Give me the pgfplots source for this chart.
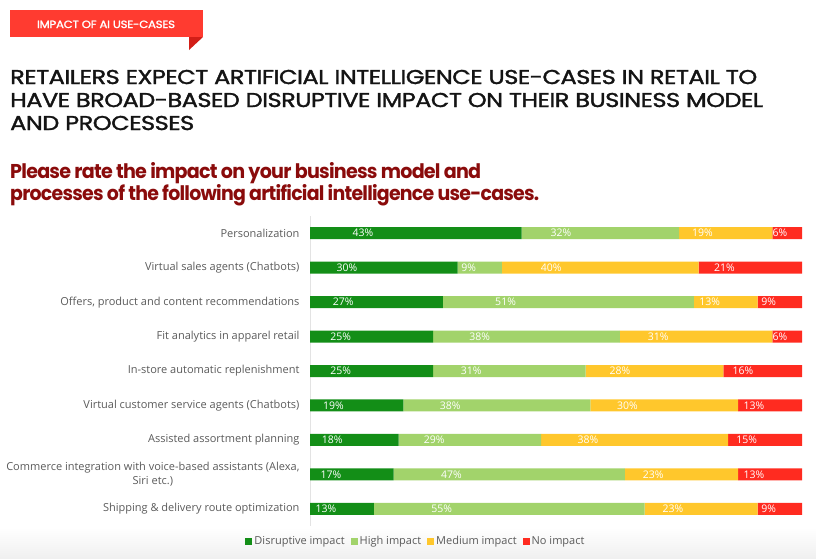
\documentclass[border=0pt]{standalone}
\usepackage{pgfplots}
\usepackage{pgfplotstable}
\pgfplotsset{compat=1.18}
\usepackage{fontspec}
\setmainfont{Open Sans}
\newfontfamily\titlefont{Poppins}[LetterSpace=-2, FakeBold=1.6]
\newfontfamily\subfont{Poppins}[LetterSpace=-4]
\definecolor{dg}{HTML}{138E17}
\definecolor{lg}{HTML}{A2D36B}
\definecolor{yl}{HTML}{FFC72C}
\definecolor{rd}{HTML}{FF2B20}
\definecolor{tagred}{HTML}{FF3B30}
\definecolor{tagdark}{HTML}{D21E17}
\definecolor{lbl}{HTML}{5A5A5A}
\definecolor{subred}{HTML}{8A0B0B}
\pgfplotstableread{
y d h m n
0 43 32 19 6
1 30 9 40 21
2 27 51 13 9
3 25 38 31 6
4 25 31 28 16
5 19 38 30 13
6 18 29 38 15
7 17 47 23 13
8 13 55 23 9
}\data
\begin{document}
\begin{tikzpicture}
\path[use as bounding box] (0pt,0pt) rectangle (816pt,-558pt);
\shade[top color=white,bottom color=gray!12] (0pt,-528pt) rectangle (816pt,-558pt);
% tag
\fill[tagdark] (189pt,-37pt) -- (203pt,-37pt) -- (189pt,-50pt) -- cycle;
\fill[tagred] (10pt,-10pt) rectangle (203pt,-37pt);
\node[white,anchor=base,inner sep=0,font=\titlefont\fontsize{10.5}{12}\selectfont] at (106pt,-28pt) {\resizebox{138pt}{\height}{IMPACT OF AI USE-CASES}};
% title
\begin{scope}[every node/.style={anchor=base west,inner sep=0,text=black!92,font=\titlefont\fontsize{20}{23}\selectfont}]
\node at (10pt,-84pt) {\resizebox{747pt}{\height}{RETAILERS EXPECT ARTIFICIAL INTELLIGENCE USE-CASES IN RETAIL TO}};
\node at (10pt,-107pt) {\resizebox{753pt}{\height}{HAVE BROAD-BASED DISRUPTIVE IMPACT ON THEIR BUSINESS MODEL}};
\node at (10pt,-130pt) {\resizebox{184pt}{\height}{AND PROCESSES}};
\end{scope}
\begin{scope}[every node/.style={anchor=base west,inner sep=0,text=subred,font=\subfont\bfseries\fontsize{20}{23}\selectfont}]
\node at (10pt,-178pt) {\resizebox{471pt}{\height}{Please rate the impact on your business model and}};
\node at (10pt,-200pt) {\resizebox{529pt}{\height}{processes of the following artificial intelligence use-cases.}};
\end{scope}
\begin{axis}[
  at={(310pt,-216pt)}, anchor=north west, scale only axis,
  width=492pt, height=310pt,
  xbar stacked, bar width=12pt,
  xmin=0, xmax=100, ymin=-0.5, ymax=8.5, y dir=reverse,
  axis x line=none, axis y line*=left,
  y axis line style={draw=gray!22},
  ytick={0,...,8}, major tick length=0pt,
  yticklabels={Personalization, Virtual sales agents (Chatbots), {Offers, product and content recommendations}, Fit analytics in apparel retail, In-store automatic replenishment, Virtual customer service agents (Chatbots), Assisted assortment planning, {Commerce integration with voice-based assistants (Alexa,\\Siri etc.)}, Shipping \& delivery route optimization},
  yticklabel style={font=\fontsize{11}{13.5}\selectfont, text=lbl, align=center, xshift=-7pt},
  /pgf/number format/assume math mode=true,
  point meta=rawx,
  visualization depends on=rawx \as \rawxval,
  nodes near coords={\pgfmathprintnumber{\pgfplotspointmeta}\%},
  every node near coord/.append style={anchor=center, text=white, font=\fontsize{10.5}{12}\selectfont, xshift={-1.23*\rawxval}},
  legend style={at={(axis description cs:0.2154,-0.0484)}, anchor=center, legend columns=4, draw=none, fill=none, font=\fontsize{11}{13}\selectfont, text=lbl, /tikz/every even column/.append style={column sep=4pt}},
  legend image code/.code={\fill[#1] (0pt,-3.5pt) rectangle (7pt,3.5pt);},
]
\addplot[fill=dg, draw=none] table[x=d,y=y]{\data};
\addplot[fill=lg, draw=none] table[x=h,y=y]{\data};
\addplot[fill=yl, draw=none] table[x=m,y=y]{\data};
\addplot[fill=rd, draw=none] table[x=n,y=y]{\data};
\legend{Disruptive impact, High impact, Medium impact, No impact}
\end{axis}
\end{tikzpicture}
\end{document}
